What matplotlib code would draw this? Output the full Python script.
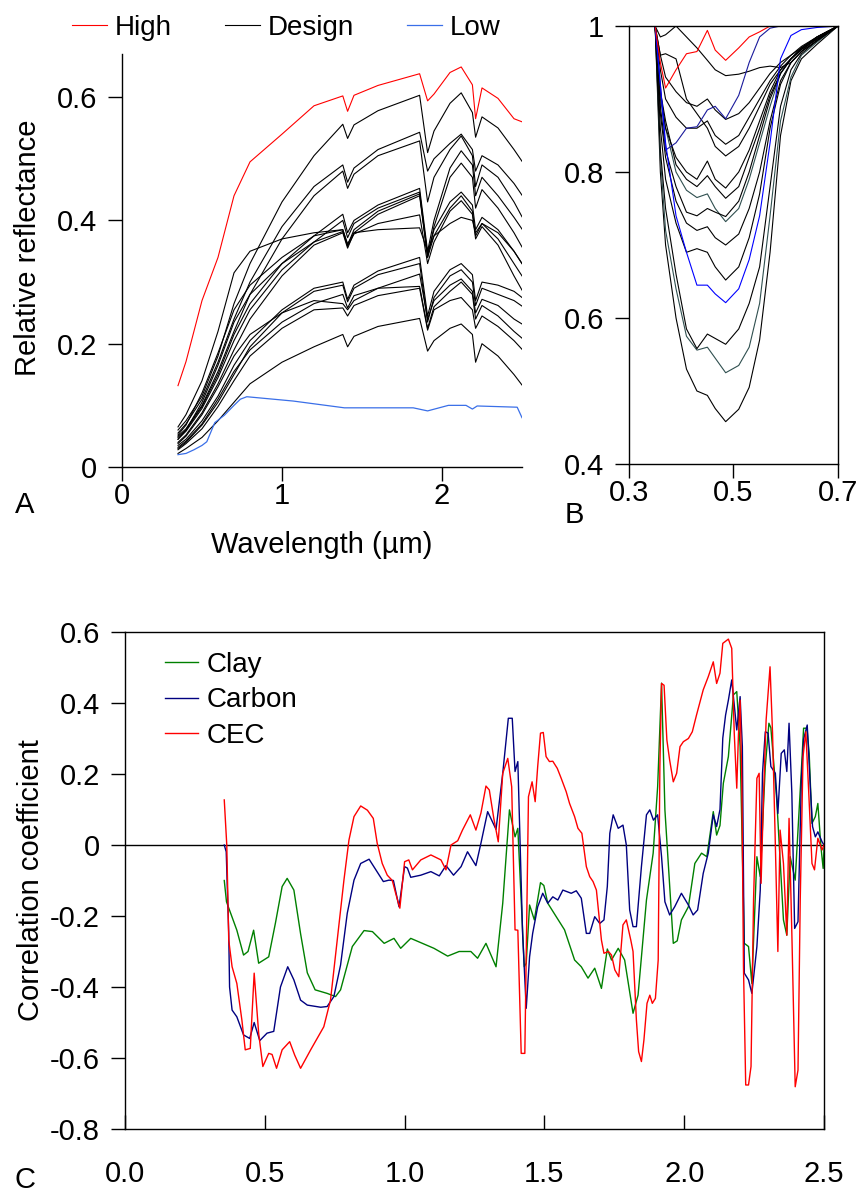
import matplotlib
matplotlib.use("Agg")
import matplotlib.pyplot as plt
from matplotlib.ticker import FuncFormatter

plt.rcParams['font.family'] = ['Liberation Sans', 'DejaVu Sans']
plt.rcParams['axes.unicode_minus'] = False

# ---- Panel A: reflectance spectra ----
wl_a = [0.35, 0.40, 0.50, 0.60, 0.70, 0.80, 1.00, 1.20, 1.38, 1.41, 1.45, 1.60,
        1.86, 1.91, 1.95, 2.05, 2.12, 2.19, 2.21, 2.25, 2.35, 2.45, 2.50]

high = [0.132, 0.171, 0.270, 0.340, 0.440, 0.495, 0.540, 0.586, 0.602, 0.577, 0.603, 0.619,
        0.638, 0.594, 0.605, 0.640, 0.649, 0.620, 0.565, 0.615, 0.598, 0.565, 0.560]

wl_low = [0.35, 0.40, 0.45, 0.50, 0.53, 0.58, 0.64, 0.70, 0.74, 0.78, 1.07, 1.39,
          1.82, 1.91, 2.04, 2.15, 2.19, 2.22, 2.47, 2.50]
low = [0.020, 0.022, 0.028, 0.035, 0.041, 0.072, 0.084, 0.100, 0.110, 0.114, 0.107, 0.096,
       0.096, 0.091, 0.100, 0.100, 0.094, 0.099, 0.097, 0.080]

design = [
    [0.060, 0.075, 0.115, 0.180, 0.265, 0.330, 0.430, 0.505, 0.556, 0.533, 0.555, 0.578,
     0.603, 0.510, 0.545, 0.590, 0.607, 0.575, 0.535, 0.568, 0.550, 0.515, 0.496],
    [0.055, 0.070, 0.110, 0.170, 0.240, 0.300, 0.390, 0.455, 0.490, 0.462, 0.485, 0.515,
     0.543, 0.480, 0.500, 0.525, 0.540, 0.515, 0.480, 0.505, 0.490, 0.460, 0.441],
    [0.050, 0.062, 0.100, 0.155, 0.220, 0.280, 0.370, 0.440, 0.480, 0.452, 0.475, 0.505,
     0.529, 0.430, 0.470, 0.515, 0.537, 0.505, 0.455, 0.490, 0.470, 0.430, 0.406],
    [0.048, 0.060, 0.098, 0.150, 0.215, 0.265, 0.330, 0.375, 0.410, 0.380, 0.400, 0.425,
     0.452, 0.350, 0.400, 0.485, 0.513, 0.490, 0.440, 0.470, 0.440, 0.405, 0.386],
    [0.045, 0.058, 0.095, 0.145, 0.205, 0.255, 0.320, 0.365, 0.400, 0.372, 0.395, 0.420,
     0.446, 0.340, 0.390, 0.470, 0.493, 0.470, 0.420, 0.450, 0.420, 0.380, 0.357],
    [0.052, 0.068, 0.120, 0.185, 0.255, 0.295, 0.340, 0.375, 0.385, 0.360, 0.385, 0.415,
     0.443, 0.345, 0.385, 0.430, 0.446, 0.425, 0.385, 0.405, 0.385, 0.350, 0.330],
    [0.040, 0.052, 0.088, 0.135, 0.190, 0.240, 0.310, 0.360, 0.380, 0.355, 0.380, 0.410,
     0.440, 0.340, 0.375, 0.420, 0.440, 0.415, 0.375, 0.395, 0.370, 0.330, 0.310],
    [0.045, 0.060, 0.105, 0.165, 0.235, 0.280, 0.330, 0.365, 0.382, 0.358, 0.378, 0.395,
     0.409, 0.330, 0.365, 0.415, 0.432, 0.410, 0.370, 0.390, 0.360, 0.310, 0.287],
    [0.065, 0.085, 0.140, 0.220, 0.315, 0.350, 0.370, 0.380, 0.385, 0.362, 0.380, 0.385,
     0.388, 0.350, 0.375, 0.395, 0.405, 0.400, 0.380, 0.395, 0.380, 0.350, 0.330],
    [0.035, 0.045, 0.075, 0.115, 0.165, 0.205, 0.255, 0.290, 0.300, 0.272, 0.295, 0.318,
     0.340, 0.245, 0.285, 0.320, 0.330, 0.312, 0.270, 0.300, 0.295, 0.285, 0.275],
    [0.030, 0.040, 0.068, 0.105, 0.150, 0.195, 0.250, 0.285, 0.295, 0.268, 0.290, 0.312,
     0.330, 0.235, 0.275, 0.310, 0.320, 0.300, 0.262, 0.290, 0.280, 0.270, 0.261],
    [0.038, 0.050, 0.085, 0.130, 0.180, 0.215, 0.250, 0.270, 0.265, 0.255, 0.270, 0.290,
     0.313, 0.240, 0.270, 0.295, 0.305, 0.285, 0.250, 0.272, 0.262, 0.240, 0.232],
    [0.032, 0.042, 0.070, 0.110, 0.155, 0.190, 0.235, 0.265, 0.280, 0.258, 0.278, 0.290,
     0.293, 0.225, 0.260, 0.285, 0.300, 0.280, 0.240, 0.262, 0.245, 0.220, 0.209],
    [0.028, 0.038, 0.062, 0.098, 0.140, 0.180, 0.225, 0.255, 0.258, 0.245, 0.262, 0.278,
     0.290, 0.222, 0.255, 0.270, 0.275, 0.255, 0.225, 0.245, 0.228, 0.205, 0.191],
    [0.022, 0.030, 0.048, 0.075, 0.105, 0.135, 0.170, 0.195, 0.215, 0.195, 0.212, 0.228,
     0.241, 0.188, 0.205, 0.225, 0.232, 0.215, 0.170, 0.200, 0.180, 0.150, 0.133],
]

# ---- Panel B: continuum removed 0.35-0.7 um ----
wl_b = [0.35, 0.36, 0.37, 0.39, 0.41, 0.43, 0.45, 0.465, 0.485, 0.51, 0.53, 0.55,
        0.57, 0.59, 0.61, 0.63, 0.66, 0.70]

cr_high = [1.0, 0.95, 0.915, 0.94, 0.962, 0.965, 0.994, 0.967, 0.953, 0.970, 0.985, 0.992,
           1.0, 1.0, 1.0, 1.0, 1.0, 1.0]
cr_low = [1.0, 0.92, 0.84, 0.74, 0.69, 0.645, 0.645, 0.633, 0.621, 0.640, 0.680, 0.740,
          0.840, 0.955, 0.987, 0.995, 0.998, 1.0]
cr_navy = [1.0, 0.92, 0.83, 0.84, 0.86, 0.862, 0.885, 0.890, 0.873, 0.905, 0.950, 0.985,
           0.997, 1.0, 1.0, 1.0, 1.0, 1.0]
cr_design = [
    [1.0, 0.80, 0.70, 0.60, 0.530, 0.500, 0.494, 0.476, 0.458, 0.475, 0.505, 0.570,
     0.690, 0.850, 0.925, 0.955, 0.975, 1.0],
    [1.0, 0.82, 0.72, 0.64, 0.575, 0.556, 0.560, 0.545, 0.525, 0.535, 0.560, 0.620,
     0.740, 0.870, 0.930, 0.960, 0.978, 1.0],
    [1.0, 0.83, 0.75, 0.66, 0.585, 0.558, 0.578, 0.572, 0.564, 0.585, 0.620, 0.670,
     0.780, 0.890, 0.940, 0.962, 0.980, 1.0],
    [1.0, 0.86, 0.79, 0.73, 0.690, 0.695, 0.690, 0.670, 0.652, 0.670, 0.710, 0.770,
     0.860, 0.920, 0.950, 0.965, 0.980, 1.0],
    [1.0, 0.88, 0.82, 0.76, 0.730, 0.720, 0.725, 0.710, 0.700, 0.715, 0.750, 0.800,
     0.870, 0.925, 0.950, 0.965, 0.980, 1.0],
    [1.0, 0.90, 0.86, 0.80, 0.775, 0.765, 0.770, 0.750, 0.732, 0.750, 0.790, 0.840,
     0.890, 0.935, 0.955, 0.970, 0.983, 1.0],
    [1.0, 0.89, 0.83, 0.78, 0.745, 0.740, 0.750, 0.745, 0.739, 0.760, 0.800, 0.850,
     0.900, 0.935, 0.955, 0.968, 0.982, 1.0],
    [1.0, 0.91, 0.87, 0.81, 0.790, 0.780, 0.795, 0.780, 0.764, 0.780, 0.820, 0.860,
     0.905, 0.935, 0.955, 0.968, 0.982, 1.0],
    [1.0, 0.91, 0.86, 0.82, 0.800, 0.790, 0.815, 0.790, 0.778, 0.800, 0.830, 0.870,
     0.910, 0.940, 0.955, 0.968, 0.983, 1.0],
    [1.0, 0.96, 0.962, 0.955, 0.900, 0.880, 0.860, 0.835, 0.822, 0.835, 0.860, 0.890,
     0.920, 0.940, 0.955, 0.970, 0.985, 1.0],
    [1.0, 0.94, 0.90, 0.875, 0.860, 0.860, 0.870, 0.850, 0.838, 0.850, 0.875, 0.900,
     0.925, 0.945, 0.960, 0.970, 0.985, 1.0],
    [1.0, 0.96, 0.93, 0.91, 0.895, 0.890, 0.900, 0.885, 0.872, 0.880, 0.895, 0.915,
     0.935, 0.950, 0.960, 0.972, 0.985, 1.0],
    [1.0, 0.985, 0.988, 1.0, 0.985, 0.970, 0.953, 0.940, 0.932, 0.934, 0.938, 0.943,
     0.945, 0.943, 0.950, 0.965, 0.985, 1.0],
]
cr_teal = [1, 5]  # these two are drawn in a dark slate tint

# ---- Panel C: correlation coefficients ----
wl_clay = [0.355, 0.363, 0.40, 0.424, 0.44, 0.46, 0.478, 0.514, 0.538, 0.562, 0.58, 0.604,
           0.628, 0.652, 0.68, 0.723, 0.753, 0.771, 0.813, 0.855, 0.885, 0.927, 0.962, 0.986,
           1.022, 1.105, 1.154, 1.195, 1.237, 1.261, 1.291, 1.327, 1.351, 1.375, 1.395, 1.405,
           1.428, 1.435, 1.447, 1.464, 1.486, 1.498, 1.512, 1.572, 1.608, 1.632, 1.656, 1.68,
           1.704, 1.725, 1.74, 1.764, 1.787, 1.817, 1.835, 1.865, 1.889, 1.905, 1.919, 1.931,
           1.961, 1.975, 1.99, 2.015, 2.038, 2.062, 2.081, 2.104, 2.116, 2.128, 2.14, 2.158,
           2.176, 2.188, 2.2, 2.215, 2.23, 2.242, 2.26, 2.272, 2.29, 2.303, 2.31, 2.331,
           2.355, 2.367, 2.379, 2.397, 2.419, 2.427, 2.439, 2.447, 2.457, 2.469, 2.478, 2.489,
           2.497, 2.5]
clay = [-0.10, -0.16, -0.24, -0.31, -0.30, -0.24, -0.333, -0.315, -0.22, -0.117, -0.094, -0.127,
        -0.25, -0.36, -0.408, -0.418, -0.427, -0.408, -0.286, -0.241, -0.244, -0.277, -0.263, -0.291,
        -0.263, -0.291, -0.313, -0.30, -0.30, -0.319, -0.277, -0.343, -0.164, 0.099, 0.023, 0.047,
        -0.343, -0.333, -0.169, -0.211, -0.106, -0.114, -0.164, -0.239, -0.324, -0.343, -0.375, -0.347,
        -0.404, -0.293, -0.324, -0.291, -0.324, -0.474, -0.423, -0.155, -0.023, 0.164, 0.456, 0.099,
        -0.277, -0.27, -0.211, -0.174, -0.052, -0.023, -0.033, 0.094, 0.028, 0.055, 0.174, 0.249,
        0.423, 0.432, 0.277, -0.277, -0.286, -0.39, -0.033, -0.089, 0.221, 0.343, 0.33, 0.127,
        -0.211, -0.254, -0.033, -0.099, 0.211, 0.329, 0.329, 0.258, 0.061, 0.08, 0.117, -0.005,
        -0.066, -0.01]

wl_carbon = [0.355, 0.362, 0.371, 0.374, 0.383, 0.40, 0.424, 0.446, 0.462, 0.482, 0.508, 0.532,
             0.556, 0.582, 0.604, 0.628, 0.652, 0.70, 0.723, 0.747, 0.771, 0.795, 0.819, 0.843,
             0.873, 0.89, 0.924, 0.944, 0.96, 0.98, 1.0, 1.01, 1.022, 1.058, 1.094, 1.124,
             1.148, 1.175, 1.202, 1.225, 1.255, 1.273, 1.297, 1.327, 1.351, 1.371, 1.385, 1.395,
             1.405, 1.422, 1.435, 1.447, 1.458, 1.476, 1.494, 1.512, 1.53, 1.548, 1.566, 1.596,
             1.614, 1.632, 1.65, 1.662, 1.68, 1.698, 1.713, 1.725, 1.734, 1.746, 1.764, 1.781,
             1.793, 1.805, 1.817, 1.829, 1.847, 1.865, 1.877, 1.89, 1.905, 1.919, 1.931, 1.948,
             1.966, 1.99, 2.015, 2.032, 2.048, 2.068, 2.086, 2.104, 2.116, 2.128, 2.138, 2.148,
             2.158, 2.17, 2.188, 2.2, 2.208, 2.215, 2.23, 2.242, 2.26, 2.272, 2.28, 2.29,
             2.3, 2.31, 2.326, 2.335, 2.347, 2.358, 2.367, 2.375, 2.385, 2.395, 2.407, 2.419,
             2.427, 2.44, 2.451, 2.459, 2.469, 2.478, 2.493, 2.5]
carbon = [0.0, -0.019, -0.249, -0.40, -0.465, -0.484, -0.535, -0.545, -0.50, -0.551, -0.53, -0.525,
          -0.40, -0.343, -0.38, -0.437, -0.451, -0.457, -0.455, -0.427, -0.338, -0.192, -0.099, -0.052,
          -0.04, -0.061, -0.103, -0.099, -0.10, -0.174, -0.061, -0.065, -0.091, -0.085, -0.075, -0.087,
          -0.058, -0.085, -0.061, -0.019, -0.058, 0.005, 0.094, 0.044, 0.202, 0.357, 0.357, 0.207,
          0.235, -0.249, -0.46, -0.315, -0.249, -0.174, -0.136, -0.164, -0.146, -0.155, -0.127, -0.136,
          -0.129, -0.15, -0.249, -0.249, -0.202, -0.221, -0.211, -0.117, 0.033, 0.085, 0.047, 0.056,
          0.0, -0.183, -0.23, -0.23, -0.061, 0.085, 0.099, 0.07, 0.085, -0.033, -0.16, -0.197,
          -0.174, -0.136, -0.169, -0.197, -0.183, -0.08, -0.023, 0.085, 0.052, 0.1, 0.301, 0.366,
          0.408, 0.465, 0.324, 0.418, 0.277, -0.361, -0.38, -0.418, -0.286, -0.127, 0.202, 0.319,
          0.315, 0.221, 0.202, 0.089, 0.258, 0.268, 0.207, 0.343, 0.146, -0.235, -0.216, 0.183,
          0.298, 0.338, 0.164, 0.052, 0.023, 0.037, 0.009, 0.0]

wl_cec = [0.355, 0.364, 0.371, 0.383, 0.40, 0.418, 0.43, 0.448, 0.462, 0.478, 0.493, 0.514,
          0.526, 0.542, 0.562, 0.589, 0.607, 0.628, 0.664, 0.711, 0.735, 0.759, 0.783, 0.801,
          0.819, 0.843, 0.867, 0.888, 0.902, 0.92, 0.938, 0.956, 0.968, 0.983, 1.0, 1.015,
          1.028, 1.058, 1.094, 1.13, 1.148, 1.166, 1.19, 1.207, 1.235, 1.255, 1.273, 1.291,
          1.303, 1.319, 1.335, 1.351, 1.369, 1.383, 1.395, 1.405, 1.417, 1.43, 1.443, 1.456,
          1.467, 1.476, 1.486, 1.496, 1.506, 1.518, 1.53, 1.546, 1.56, 1.578, 1.59, 1.608,
          1.62, 1.634, 1.65, 1.662, 1.674, 1.686, 1.704, 1.713, 1.729, 1.74, 1.752, 1.766,
          1.781, 1.793, 1.809, 1.817, 1.829, 1.837, 1.847, 1.856, 1.867, 1.877, 1.886, 1.897,
          1.907, 1.913, 1.919, 1.928, 1.938, 1.948, 1.961, 1.973, 1.985, 1.997, 2.015, 2.029,
          2.044, 2.068, 2.086, 2.104, 2.116, 2.128, 2.138, 2.158, 2.17, 2.179, 2.188, 2.194,
          2.2, 2.206, 2.212, 2.22, 2.23, 2.239, 2.248, 2.26, 2.268, 2.275, 2.284, 2.293,
          2.299, 2.307, 2.316, 2.325, 2.335, 2.343, 2.355, 2.367, 2.375, 2.385, 2.397, 2.407,
          2.415, 2.425, 2.435, 2.445, 2.457, 2.466, 2.478, 2.493, 2.5]
cec = [0.127, 0.0, -0.268, -0.343, -0.39, -0.493, -0.577, -0.573, -0.361, -0.53, -0.624, -0.587,
       -0.59, -0.629, -0.577, -0.554, -0.592, -0.629, -0.577, -0.512, -0.437, -0.268, -0.099, 0.014,
       0.08, 0.11, 0.098, 0.075, 0.005, -0.052, -0.085, -0.10, -0.136, -0.178, -0.047, -0.042,
       -0.07, -0.042, -0.028, -0.042, -0.07, 0.0, 0.012, 0.042, 0.085, 0.042, 0.09, 0.166,
       0.155, 0.075, 0.009, 0.202, 0.244, 0.164, -0.239, -0.24, -0.587, -0.587, 0.136, 0.178,
       0.122, 0.221, 0.315, 0.317, 0.249, 0.235, 0.236, 0.216, 0.188, 0.15, 0.117, 0.08,
       0.047, 0.033, -0.061, -0.089, -0.103, -0.127, -0.268, -0.305, -0.30, -0.31, -0.352, -0.371,
       -0.225, -0.211, -0.268, -0.30, -0.493, -0.582, -0.61, -0.549, -0.446, -0.423, -0.446, -0.432,
       -0.324, 0.221, 0.455, 0.45, 0.296, 0.239, 0.178, 0.202, 0.277, 0.291, 0.30, 0.319,
       0.366, 0.437, 0.474, 0.516, 0.455, 0.484, 0.568, 0.58, 0.554, 0.315, 0.16, 0.31,
       0.408, 0.183, -0.343, -0.676, -0.676, -0.624, -0.155, 0.188, 0.202, -0.108, 0.146, 0.352,
       0.418, 0.502, 0.315, 0.033, -0.30, 0.042, -0.052, -0.254, 0.075, -0.249, -0.681, -0.634,
       -0.155, 0.249, 0.319, 0.155, -0.052, -0.07, 0.019, -0.014, 0.0]


def fmt_num(v, pos):
    if abs(v) < 1e-9:
        return "0"
    if abs(v - round(v)) < 1e-9:
        return "{:.0f}".format(v)
    return "{:.1f}".format(v)


fig = plt.figure(figsize=(8.62, 11.96), dpi=100)
FS = 21

# ---------------- Panel A ----------------
axA = fig.add_axes([122 / 862, 1 - 467 / 1196, 400 / 862, 413 / 1196])
for i, ref in enumerate(design):
    axA.plot(wl_a, ref, color="black", lw=0.8, label="Design" if i == 0 else None)
axA.plot(wl_a, high, color="red", lw=0.8, label="High")
axA.plot(wl_low, low, color="#3a6fe8", lw=0.9, label="Low")
axA.set_xlim(0, 2.5)
axA.set_ylim(0, 0.67)
axA.set_xticks([0, 1, 2])
axA.set_yticks([0, 0.2, 0.4, 0.6])
axA.xaxis.set_major_formatter(FuncFormatter(fmt_num))
axA.yaxis.set_major_formatter(FuncFormatter(fmt_num))
axA.spines["top"].set_visible(False)
axA.spines["right"].set_visible(False)
axA.tick_params(direction="out", length=10, width=1, labelsize=FS)
axA.tick_params(axis="y", pad=8)
axA.tick_params(axis="x", pad=1)
axA.set_xlabel("Wavelength (\u00b5m)", fontsize=FS, labelpad=15)
axA.set_ylabel("Relative reflectance", fontsize=FS, va="center")
axA.yaxis.set_label_coords(-0.235, 0.53)

h, l = axA.get_legend_handles_labels()
order = [l.index("High"), l.index("Design"), l.index("Low")]
fig.legend([h[k] for k in order], [l[k] for k in order], loc="center left",
           bbox_to_anchor=(72 / 862, 1 - 28 / 1196), ncol=3, frameon=False,
           fontsize=20, handlelength=1.25, handletextpad=0.3, columnspacing=1.9,
           borderpad=0, borderaxespad=0)

# ---------------- Panel B ----------------
axB = fig.add_axes([629 / 862, 1 - 464 / 1196, 209 / 862, 438 / 1196])
for i, ref in enumerate(cr_design):
    col = "#2f4f4f" if i in cr_teal else "black"
    axB.plot(wl_b, ref, color=col, lw=0.8)
axB.plot(wl_b, cr_navy, color="#1a1a9c", lw=0.8)
axB.plot(wl_b, cr_low, color="#0000ff", lw=0.8)
axB.plot(wl_b, cr_high, color="red", lw=0.8)
axB.set_xlim(0.3, 0.7)
axB.set_ylim(0.4, 1.0)
axB.set_xticks([0.3, 0.5, 0.7])
axB.set_yticks([0.4, 0.6, 0.8, 1.0])
axB.xaxis.set_major_formatter(FuncFormatter(fmt_num))
axB.yaxis.set_major_formatter(FuncFormatter(fmt_num))
axB.tick_params(direction="out", length=10, width=1, labelsize=FS)
axB.tick_params(axis="y", pad=8)
axB.tick_params(axis="x", pad=1)

# ---------------- Panel C ----------------
axC = fig.add_axes([125 / 862, 1 - 1129 / 1196, 699 / 862, 497 / 1196])
axC.axhline(0, color="black", lw=1)
axC.plot(wl_clay, clay, color="#008000", lw=1.0, label="Clay")
axC.plot(wl_carbon, carbon, color="#000080", lw=1.0, label="Carbon")
axC.plot(wl_cec, cec, color="#ff0000", lw=1.0, label="CEC")
axC.set_xlim(0, 2.5)
axC.set_ylim(-0.8, 0.6)
axC.set_xticks([0.0, 0.5, 1.0, 1.5, 2.0, 2.5])
axC.set_yticks([-0.8, -0.6, -0.4, -0.2, 0, 0.2, 0.4, 0.6])
axC.xaxis.set_major_formatter(FuncFormatter(lambda v, p: "{:.1f}".format(v)))
axC.yaxis.set_major_formatter(FuncFormatter(fmt_num))
axC.tick_params(axis="x", direction="in", length=10, width=1, labelsize=FS, pad=22)
axC.tick_params(axis="y", direction="out", length=10, width=1, labelsize=FS, pad=8)
axC.set_ylabel("Correlation coefficient", fontsize=FS, va="center")
axC.yaxis.set_label_coords(-0.135, 0.5)
axC.legend(loc="upper left", bbox_to_anchor=(165 / 862, 1 - 652 / 1196),
           bbox_transform=fig.transFigure, frameon=False, fontsize=20,
           handlelength=1.2, handletextpad=0.3, labelspacing=0.34,
           borderpad=0, borderaxespad=0)

for sp in list(axA.spines.values()) + list(axB.spines.values()) + list(axC.spines.values()):
    sp.set_linewidth(1)

# panel letters
fig.text(15 / 862, 1 - 505 / 1196, "A", fontsize=FS, va="center")
fig.text(565 / 862, 1 - 515 / 1196, "B", fontsize=FS, va="center")
fig.text(15 / 862, 1 - 1180 / 1196, "C", fontsize=FS, va="center")

fig.savefig("out.png", dpi=100)
